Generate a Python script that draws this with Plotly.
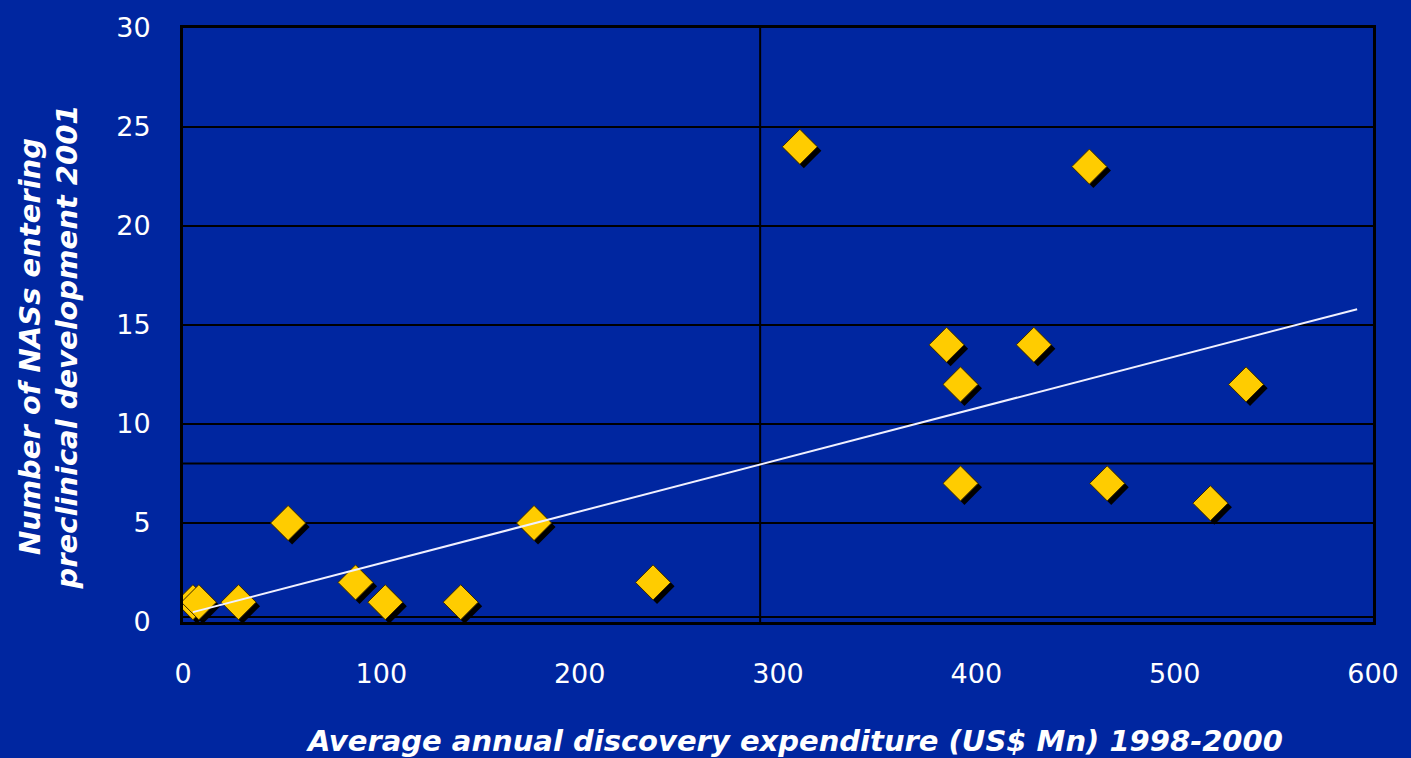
import plotly.graph_objects as go

# Discovery spend vs. new active substances entering preclinical development
spend = [5, 8, 28, 53, 87, 102, 140, 177, 237, 311, 385, 392, 392, 429, 457, 466, 518, 536]
nas = [1, 1, 1, 5, 2, 1, 1, 5, 2, 24, 14, 12, 7, 14, 23, 7, 6, 12]

# Linear trend end points
trend_x = [5, 592]
trend_y = [0.5, 15.8]

# Quadrant divider positions
split_x = 291
split_y = 8

x_ticks = [0, 100, 200, 300, 400, 500, 600]
y_ticks = [0, 5, 10, 15, 20, 25, 30]

BG = "rgb(0,38,160)"
W, H = 1411, 758
L, R, T, B = 183, 35, 24, 136
x_rng = [0, 600]
y_rng = [0, 30]
px_x = (x_rng[1] - x_rng[0]) / (W - L - R)
px_y = (y_rng[1] - y_rng[0]) / (H - T - B)
shadow_dx, shadow_dy = 4 * px_x, -4 * px_y

fig = go.Figure()

# Drop shadow under each marker
fig.add_trace(go.Scatter(
    x=[v + shadow_dx for v in spend], y=[v + shadow_dy for v in nas],
    mode="markers", hoverinfo="skip",
    marker=dict(symbol="diamond", size=27, color="black", line=dict(width=0)),
))
fig.add_trace(go.Scatter(
    x=spend, y=nas, mode="markers",
    marker=dict(symbol="diamond", size=27, color="#FFCC00",
                line=dict(width=1, color="#3a2a00")),
))
fig.add_trace(go.Scatter(
    x=trend_x, y=trend_y, mode="lines",
    line=dict(color="#f0f0ff", width=2),
))

line_style = dict(color="black", width=2)
fig.add_shape(type="line", x0=split_x, x1=split_x, y0=0, y1=30,
              xref="x", yref="y", line=line_style, layer="below")
fig.add_shape(type="line", x0=0, x1=600, y0=split_y, y1=split_y,
              xref="x", yref="y", line=line_style, layer="below")
fig.add_shape(type="line", x0=0, x1=600, y0=0.25, y1=0.25,
              xref="x", yref="y", line=line_style, layer="below")

tick_font = dict(family="DejaVu Sans", size=27, color="white")
title_font = dict(family="DejaVu Sans", size=29, color="white")

fig.update_layout(
    width=W, height=H,
    margin=dict(l=L, r=R, t=T, b=B),
    paper_bgcolor=BG, plot_bgcolor=BG,
    showlegend=False,
    xaxis=dict(range=x_rng, tickvals=x_ticks, ticktext=[str(v) for v in x_ticks],
               showgrid=False, zeroline=False, showline=True, linecolor="black",
               linewidth=3, mirror=True, tickfont=tick_font, ticks="",
               ticklabelstandoff=26),
    yaxis=dict(range=y_rng, tickvals=y_ticks, ticktext=[str(v) for v in y_ticks],
               showgrid=True, gridcolor="black", gridwidth=2, zeroline=False,
               showline=True, linecolor="black", linewidth=3, mirror=True,
               tickfont=tick_font, ticks="", ticklabelstandoff=24),
    annotations=[
        dict(text="<b><i>Average annual discovery expenditure (US$ Mn) 1998-2000</i></b>",
             x=0.514, y=-0.20, xref="paper", yref="paper", showarrow=False,
             font=title_font, xanchor="center", yanchor="middle"),
        dict(text="<b><i>Number of NASs entering<br>preclinical development 2001</i></b>",
             x=-0.113, y=0.463, xref="paper", yref="paper", showarrow=False,
             font=title_font, textangle=-90, xanchor="center", yanchor="middle"),
    ],
)

fig.write_html("out.html")
